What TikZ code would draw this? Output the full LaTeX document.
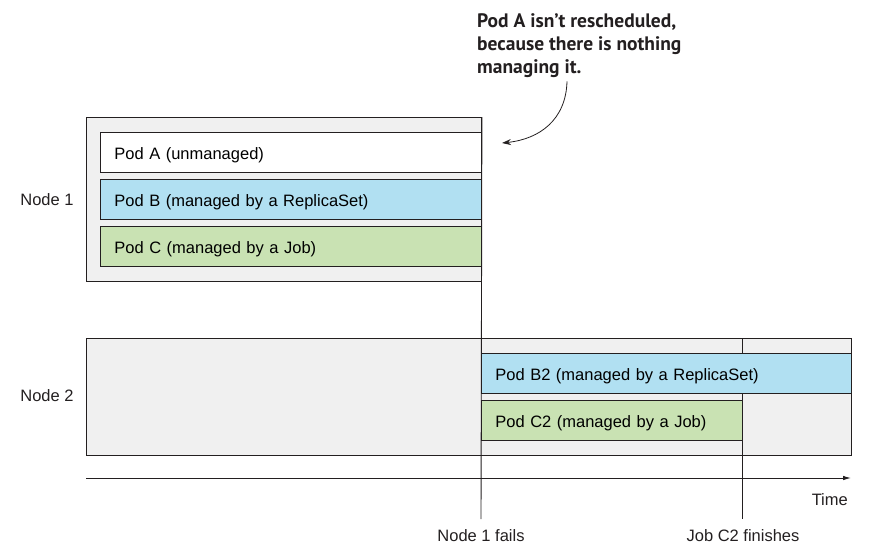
\documentclass[tikz,border=0pt]{standalone}
\usepackage{fontspec}
\setmainfont{Liberation Sans}
\newfontfamily\calloutfont{PT Sans}
\usetikzlibrary{arrows.meta,calc}
\definecolor{edgecol}{HTML}{231F20}
\definecolor{nodegray}{HTML}{F0F0F0}
\definecolor{rsblue}{HTML}{B1E0F2}
\definecolor{jobgreen}{HTML}{C9E2B3}
\tikzset{
  nodearea/.style={draw=edgecol, fill=nodegray, line width=0.9pt, anchor=north west, inner sep=0pt},
  pod/.style={draw=edgecol, line width=0.9pt, anchor=north west, minimum height=40pt,
    inner xsep=14pt, inner ysep=0pt, align=left, text height=15pt, text depth=0pt,
    font=\fontsize{16.5}{19}\selectfont},
  plain/.style={font=\fontsize{16.5}{19}\selectfont, text=edgecol, inner sep=0pt},
  timeline/.style={draw=edgecol, line width=0.9pt},
}
\begin{document}
\begin{tikzpicture}[x=1pt,y=-1pt]
\useasboundingbox (0,0) rectangle (878,558);
\node[nodearea, minimum width=395pt, minimum height=164pt] (nodeone) at (86,117) {};
\node[nodearea, minimum width=765pt, minimum height=117pt] (nodetwo) at (86,338) {};
\node[plain] (nodeonelabel) at (47,200) {Node 1};
\node[plain] (nodetwolabel) at (47,396) {Node 2};
\node[plain] (failtext) at (481,536) {Node 1 fails};
\node[plain] (jobtext) at (743,536) {Job C2 finishes};
\node[plain, anchor=east] (timetext) at (848,500) {Time};
\coordinate (failbot) at (481,519);
\coordinate (jobtop) at (742,338);
\coordinate (jobbot) at (742,519);
\coordinate (axisstart) at (86,478);
\coordinate (axisend) at (851,478);
\draw[timeline] (nodeone.north east) -- (failbot);
\draw[timeline] (jobtop) -- (jobbot);
\draw[timeline, -{Latex[length=8pt,width=4.5pt]}] (axisstart) -- (axisend);
\node[pod, fill=white, text width=353pt] (poda) at (100,132) {Pod A (unmanaged)};
\node[pod, fill=rsblue, text width=353pt] (podb) at (100,179) {Pod B (managed by a ReplicaSet)};
\node[pod, fill=jobgreen, text width=353pt] (podc) at (100,226) {Pod C (managed by a Job)};
\node[pod, fill=rsblue, text width=342pt] (podbtwo) at (481,353) {Pod B2 (managed by a ReplicaSet)};
\node[pod, fill=jobgreen, text width=233pt] (podctwo) at (481,400) {Pod C2 (managed by a Job)};
\node[anchor=north west, inner sep=0pt, align=left, text=edgecol,
  font=\calloutfont\bfseries\fontsize{19.5}{23}\selectfont] (callout) at (477,13)
  {Pod A isn’t rescheduled,\\because there is nothing\\managing it.};
\coordinate (podanote) at (502,143);
\draw[line width=0.8pt, draw=edgecol, -{Stealth[length=9pt,width=6pt]}]
  ($(callout.south west)+(90,4)$) .. controls +(-1,38) and +(38,-4) .. (podanote);
\end{tikzpicture}
\end{document}
